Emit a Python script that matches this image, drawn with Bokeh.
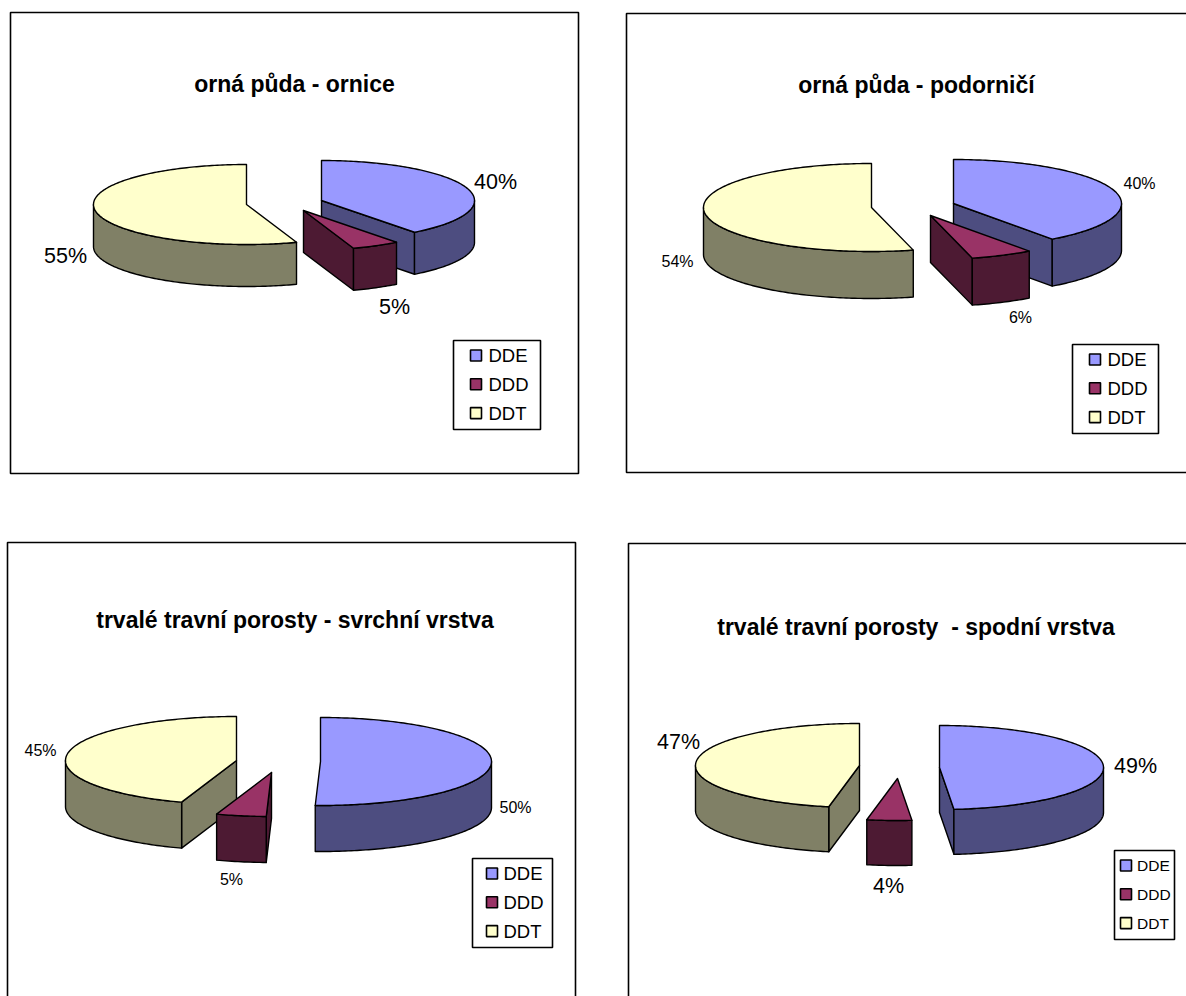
import math

from bokeh.core.properties import value
from bokeh.embed import file_html
from bokeh.models import Range1d
from bokeh.plotting import figure
from bokeh.resources import INLINE

# Soil residue shares (percent) for each land use and layer
categories = ["DDE", "DDD", "DDT"]
titles = [
    "orná půda - ornice",
    "orná půda - podorničí",
    "trvalé travní porosty - svrchní vrstva",
    "trvalé travní porosty \u00a0- spodní vrstva",
]
shares_arable_topsoil = [39.6, 5.1, 55.3]
shares_arable_subsoil = [40.0, 6.0, 54.0]
shares_grass_upper = [50.49, 4.71, 44.8]
shares_grass_lower = [48.6, 4.4, 47.0]

top_colors = ["#9999FF", "#993366", "#FFFFCC"]
side_colors = ["#4D4D80", "#4D1A33", "#808066"]
FONT = "Liberation Sans"

# Panel geometry: frame, exploded slice centres, ellipse radii, extrusion depth,
# label centres, legend box, legend insets and font sizes.
panels = [
    dict(shares=shares_arable_topsoil, title=titles[0], frame=(10, 12, 578, 473), title_xy=(294, 83),
         centers=[(321, 200), (303, 210), (246, 204)], rx=153, ry=40, depth=42,
         labels=[(495, 181), (394, 306), (65, 255)], label_size=21.5,
         legend=(453, 340, 540, 429), swatch_inset=17, text_inset=35, legend_size=18.5),
    dict(shares=shares_arable_subsoil, title=titles[1], frame=(626, 13, 1194, 472), title_xy=(916, 84),
         centers=[(953, 203), (930, 215), (871, 207)], rx=168, ry=44, depth=47,
         labels=[(1139, 183), (1020, 317), (677, 261)], label_size=16,
         legend=(1072, 344, 1158, 433), swatch_inset=17, text_inset=35, legend_size=18.5),
    dict(shares=shares_grass_upper, title=titles[2], frame=(7, 542, 575, 1010), title_xy=(294.5, 619),
         centers=[(320, 761), (271, 772), (236, 760)], rx=171, ry=44, depth=46,
         labels=[(515, 807), (231, 879), (40, 750)], label_size=16,
         legend=(472, 858, 552, 947), swatch_inset=14, text_inset=31, legend_size=18.5),
    dict(shares=shares_grass_lower, title=titles[3], frame=(628, 543, 1194, 1010), title_xy=(915.5, 626),
         centers=[(939, 767), (897, 778), (859, 765)], rx=164, ry=42, depth=45,
         labels=[(1135, 765), (888, 885), (678, 741)], label_size=21.5,
         legend=(1114, 850, 1174, 939), swatch_inset=6, text_inset=22.5, legend_size=15.5),
]

p = figure(width=1186, height=996, x_range=Range1d(0, 1186), y_range=Range1d(996, 0),
           output_backend="svg", toolbar_location=None, min_border=0)
p.axis.visible = False
p.grid.visible = False
p.outline_line_color = None

OUTLINE = dict(line_color="black", line_width=1.4, line_join="round")
LEGEND_ROW = 28.8


def rim_point(center, rx, ry, angle):
    rad = math.radians(angle)
    return center[0] + rx * math.sin(rad), center[1] - ry * math.cos(rad)


def draw_slice(center, rx, ry, depth, start, end, top, side):
    # Cut faces towards the viewer, extruded downwards from the centre
    if 180 < start < 360:
        x, y = rim_point(center, rx, ry, start)
        p.patch([center[0], x, x, center[0]], [center[1], y, y + depth, center[1] + depth],
                fill_color=side, **OUTLINE)
    if 0 < end < 180:
        x, y = rim_point(center, rx, ry, end)
        p.patch([center[0], x, x, center[0]], [center[1], y, y + depth, center[1] + depth],
                fill_color=side, **OUTLINE)

    # Outer wall: only the front half of the ellipse is visible
    lo, hi = max(start, 90), min(end, 270)
    if hi > lo:
        steps = max(2, int(hi - lo))
        rim = [rim_point(center, rx, ry, lo + (hi - lo) * i / steps) for i in range(steps + 1)]
        xs = [q[0] for q in rim] + [q[0] for q in reversed(rim)]
        ys = [q[1] for q in rim] + [q[1] + depth for q in reversed(rim)]
        p.patch(xs, ys, fill_color=side, **OUTLINE)

    # Top face
    steps = max(2, int(end - start))
    rim = [rim_point(center, rx, ry, start + (end - start) * i / steps) for i in range(steps + 1)]
    p.patch([center[0]] + [q[0] for q in rim], [center[1]] + [q[1] for q in rim],
            fill_color=top, **OUTLINE)


def draw_text(x, y, text, size, style="normal", baseline="middle"):
    p.text([x], [y], text=[text], text_font=value(FONT), text_font_size=f"{size}px",
           text_font_style=style, text_align="center", text_baseline=baseline, text_color="black")


for panel in panels:
    left, top, right, bottom = panel["frame"]
    p.quad(left=left, right=right, top=top, bottom=bottom, fill_color="white",
           line_color="black", line_width=1.6)
    draw_text(*panel["title_xy"], panel["title"], 23, "bold", "alphabetic")

    # Slices run clockwise from twelve o'clock in series order
    bounds = [0.0]
    for share in panel["shares"]:
        bounds.append(bounds[-1] + share * 3.6)
    for i in (2, 0, 1):
        draw_slice(panel["centers"][i], panel["rx"], panel["ry"], panel["depth"],
                   bounds[i], bounds[i + 1], top_colors[i], side_colors[i])
    for i, share in enumerate(panel["shares"]):
        lx, ly = panel["labels"][i]
        draw_text(lx, ly, f"{round(share)}%", panel["label_size"])

    # Legend box
    l0, t0, r0, b0 = panel["legend"]
    p.quad(left=l0, right=r0, top=t0, bottom=b0, fill_color="white", line_color="black", line_width=1.6)
    mid = (t0 + b0) / 2 - 0.7
    for i, name in enumerate(categories):
        cy = mid + (i - 1) * LEGEND_ROW
        sx = l0 + panel["swatch_inset"]
        p.quad(left=sx, right=sx + 11, top=cy - 5.5, bottom=cy + 5.5,
               fill_color=top_colors[i], line_color="black", line_width=1.6)
        p.text([l0 + panel["text_inset"]], [cy], text=[name], text_font=value(FONT),
               text_font_size=f"{panel['legend_size']}px", text_align="left",
               text_baseline="middle", text_color="black")

open("out.html", "w").write(file_html(p, INLINE))
